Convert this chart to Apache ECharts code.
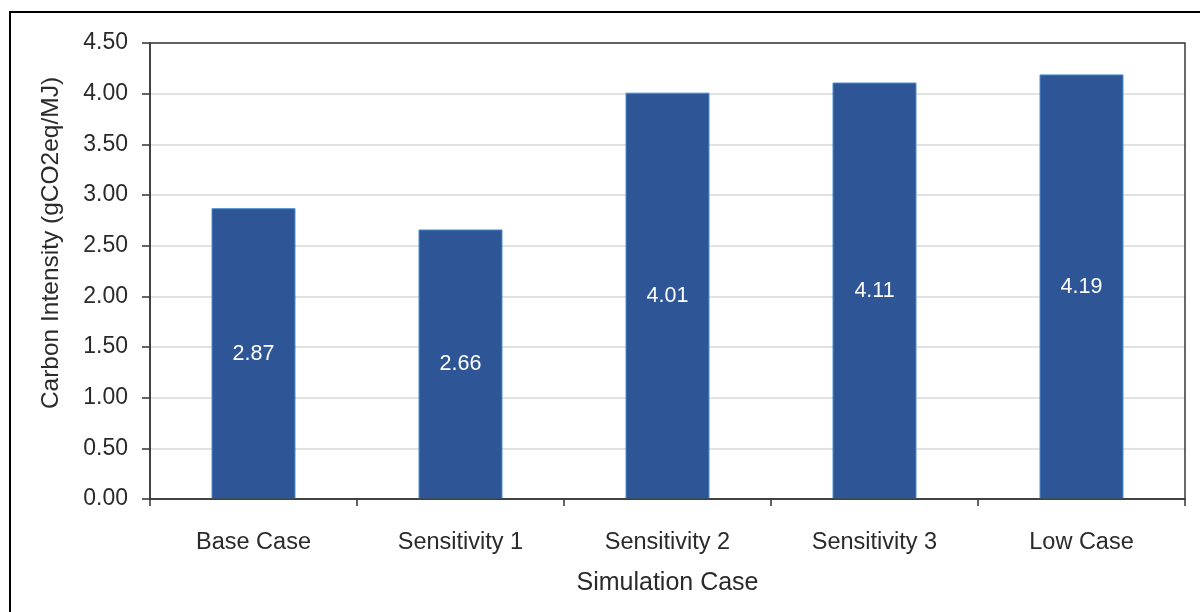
<!DOCTYPE html>
<html><head><meta charset="utf-8">
<script src="https://cdn.jsdelivr.net/npm/echarts@6/dist/echarts.min.js"></script>
<style>html,body{margin:0;padding:0;background:#fff}#c{width:1200px;height:612px}</style>
</head><body><div id="c"></div>
<script>
const categories = ['Base Case', 'Sensitivity 1', 'Sensitivity 2', 'Sensitivity 3', 'Low Case'];
const values = [2.87, 2.66, 4.01, 4.11, 4.19];
const yTicks = {min: 0, max: 4.5, interval: 0.5};
const xTitle = 'Simulation Case';
const yTitle = 'Carbon Intensity (gCO2eq/MJ)';

const chart = echarts.init(document.getElementById('c'), null, {renderer: 'canvas'});
const font = 'Liberation Sans, Arial, sans-serif';
chart.setOption({
  animation: false,
  backgroundColor: '#fff',
  graphic: [{
    type: 'rect', shape: {x: 10, y: 12, width: 1300, height: 700},
    style: {fill: 'none', stroke: '#000', lineWidth: 2}, z: -1
  }, {
    type: 'rect', shape: {x: 150, y: 43, width: 1035, height: 456},
    style: {fill: 'none', stroke: '#3a3a3a', lineWidth: 1.5}, z: 10
  }],
  grid: {left: 150, right: 15, top: 43, bottom: 113, containLabel: false},
  xAxis: {
    type: 'category', data: categories,
    name: xTitle, nameLocation: 'middle', nameGap: 72,
    nameTextStyle: {fontFamily: font, fontSize: 25, color: '#2a2a2a'},
    axisLine: {lineStyle: {color: '#333', width: 1.5}},
    axisTick: {show: true, alignWithLabel: false, length: 7, lineStyle: {color: '#333', width: 1.5}},
    axisLabel: {fontFamily: font, fontSize: 23.5, color: '#2a2a2a', margin: 32},
    splitLine: {show: false}
  },
  yAxis: {
    type: 'value', min: yTicks.min, max: yTicks.max, interval: yTicks.interval,
    name: yTitle, nameLocation: 'middle', nameGap: 86, nameRotate: 90,
    nameTextStyle: {fontFamily: font, fontSize: 24.5, color: '#2a2a2a', padding: [0, 0, 0, 56]},
    axisLine: {show: true, lineStyle: {color: '#333', width: 1.5}},
    axisTick: {show: true, length: 8, lineStyle: {color: '#333', width: 1.5}},
    axisLabel: {fontFamily: font, fontSize: 23, color: '#2a2a2a', margin: 22,
      formatter: v => v.toFixed(2)},
    splitLine: {show: true, lineStyle: {color: '#d9d9d9', width: 1.5}}
  },
  series: [{
    type: 'bar', data: values, barWidth: 84,
    itemStyle: {color: '#2E5596', borderColor: '#4a8fd0', borderWidth: 1},
    label: {show: true, position: 'inside', color: '#fff', fontFamily: font, fontSize: 21.5,
      formatter: p => p.value.toFixed(2)}
  }]
});
</script></body></html>
